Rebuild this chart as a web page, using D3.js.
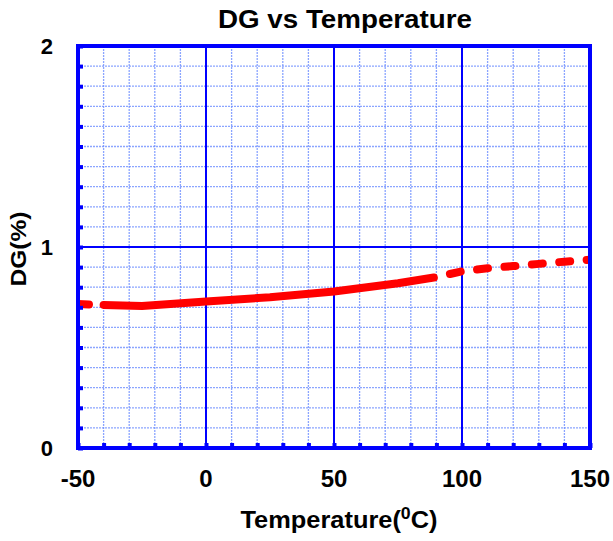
<!DOCTYPE html>
<html>
<head>
<meta charset="utf-8">
<script src="https://cdn.jsdelivr.net/npm/d3@7/dist/d3.min.js"></script>
<style>
  html, body { margin: 0; padding: 0; background: #fff; }
  svg { display: block; font-family: "Liberation Sans", Arial, sans-serif; }
</style>
</head>
<body>
<svg id="chart" width="613" height="541"></svg>
<script>
// ---- data ----
const title = "DG vs Temperature";
const xLabel = "Temperature(";
const yLabel = "DG(%)";
const xMajorTicks = [-50, 0, 50, 100, 150];
const yMajorTicks = [0, 1, 2];
// measured (solid) portion
const solidT  = [-40, -25, 0, 25, 50, 75, 89];
const solidDG = [0.712, 0.707, 0.729, 0.750, 0.779, 0.820, 0.848];
// extrapolated (dashed) portions
const leftT   = [-50, -40];
const leftDG  = [0.716, 0.712];
const rightT  = [89, 100, 110, 120, 130, 140, 150];
const rightDG = [0.848, 0.879, 0.894, 0.905, 0.916, 0.927, 0.937];

// ---- layout ----
const svg = d3.select("#chart");
const L = 78, R = 590, T = 46, B = 448;
const x = d3.scaleLinear().domain([-50, 150]).range([L, R]);
const y = d3.scaleLinear().domain([0, 2]).range([B, T]);

const minorX = d3.range(-50, 150.001, 10);
const minorY = d3.range(0, 2.0001, 0.1).map(v => +v.toFixed(1));

// minor grid
const g = svg.append("g");
g.selectAll(".mx").data(minorX.filter(v => !xMajorTicks.includes(v))).enter().append("line")
  .attr("x1", d => x(d)).attr("x2", d => x(d)).attr("y1", T).attr("y2", B)
  .attr("stroke", "#6f8fff").attr("stroke-width", 1.3).attr("stroke-dasharray", "2,1").attr("opacity", 0.8);
g.selectAll(".my").data(minorY.filter(v => !yMajorTicks.includes(v))).enter().append("line")
  .attr("y1", d => y(d)).attr("y2", d => y(d)).attr("x1", L).attr("x2", R)
  .attr("stroke", "#6f8fff").attr("stroke-width", 1.3).attr("stroke-dasharray", "2,1").attr("opacity", 0.8);

// major grid
g.selectAll(".Mx").data(xMajorTicks.slice(1, -1)).enter().append("line")
  .attr("x1", d => x(d)).attr("x2", d => x(d)).attr("y1", T).attr("y2", B)
  .attr("stroke", "#0000ff").attr("stroke-width", 2);
g.selectAll(".My").data(yMajorTicks.slice(1, -1)).enter().append("line")
  .attr("y1", d => y(d)).attr("y2", d => y(d)).attr("x1", L).attr("x2", R)
  .attr("stroke", "#0000ff").attr("stroke-width", 2);

// clip
svg.append("clipPath").attr("id", "clip").append("rect")
  .attr("x", L).attr("y", T).attr("width", R - L).attr("height", B - T);

const line = d3.line().x(d => x(d[0])).y(d => y(d[1]));
const curves = svg.append("g").attr("clip-path", "url(#clip)");
curves.append("path").datum(leftT.map((t, i) => [t, leftDG[i]]))
  .attr("d", line).attr("fill", "none").attr("stroke", "#ff0000").attr("stroke-width", 8)
  .attr("stroke-linecap", "round").attr("stroke-dasharray", "11,16.5");
curves.append("path").datum(solidT.map((t, i) => [t, solidDG[i]]))
  .attr("d", line).attr("fill", "none").attr("stroke", "#ff0000").attr("stroke-width", 8)
  .attr("stroke-linecap", "round").attr("stroke-linejoin", "round");
curves.append("path").datum(rightT.map((t, i) => [t, rightDG[i]]))
  .attr("d", line).attr("fill", "none").attr("stroke", "#ff0000").attr("stroke-width", 8)
  .attr("stroke-linecap", "round").attr("stroke-dasharray", "11,16.5").attr("stroke-dashoffset", 11);

// axes (inward minor ticks)
const xAxis = d3.axisBottom(x).tickValues(minorX).tickSize(-5).tickFormat("");
const yAxis = d3.axisLeft(y).tickValues(minorY).tickSize(-5).tickFormat("");
const gx = svg.append("g").attr("transform", `translate(0,${B})`).call(xAxis);
const gy = svg.append("g").attr("transform", `translate(${L},0)`).call(yAxis);
[gx, gy].forEach(a => {
  a.select(".domain").remove();
  a.selectAll(".tick line").attr("stroke", "#0000ff").attr("stroke-width", 4);
});

// border
svg.append("rect").attr("x", L).attr("y", T).attr("width", R - L).attr("height", B - T)
  .attr("fill", "none").attr("stroke", "#0000ff").attr("stroke-width", 4);

// tick labels
svg.append("g").selectAll("text").data(xMajorTicks).enter().append("text")
  .attr("x", d => x(d)).attr("y", 487).attr("text-anchor", "middle")
  .attr("font-size", 24).attr("font-weight", "bold").attr("fill", "#000")
  .text(d => d);
svg.append("g").selectAll("text").data(yMajorTicks).enter().append("text")
  .attr("x", 53).attr("y", d => y(d) + 8).attr("text-anchor", "end")
  .attr("font-size", 22).attr("font-weight", "bold").attr("fill", "#000")
  .text(d => d);

// title
svg.append("text").attr("x", 345).attr("y", 28).attr("text-anchor", "middle")
  .attr("font-size", 25).attr("font-weight", "bold").attr("fill", "#000")
  .attr("textLength", 254).attr("lengthAdjust", "spacingAndGlyphs")
  .text(title);

// x label with superscript
const xl = svg.append("text").attr("x", 339).attr("y", 528).attr("text-anchor", "middle")
  .attr("font-size", 23).attr("font-weight", "bold").attr("fill", "#000")
  .attr("textLength", 197).attr("lengthAdjust", "spacingAndGlyphs");
xl.append("tspan").text(xLabel);
xl.append("tspan").attr("font-size", 16).attr("dy", -9).text("0");
xl.append("tspan").attr("dy", 9).text("C)");

// y label
svg.append("text").attr("transform", "translate(26,249) rotate(-90)")
  .attr("text-anchor", "middle").attr("font-size", 22).attr("font-weight", "bold").attr("fill", "#000")
  .attr("textLength", 75).attr("lengthAdjust", "spacingAndGlyphs")
  .text(yLabel);
</script>
</body>
</html>
